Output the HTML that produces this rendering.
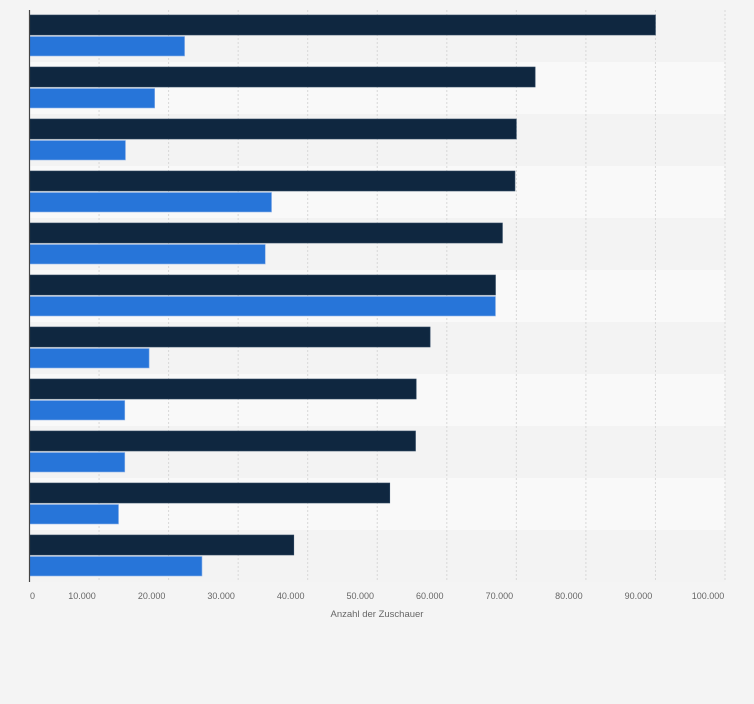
<!DOCTYPE html>
<html><head><meta charset="utf-8"><style>
body{margin:0;background:#f4f4f4;font-family:"Liberation Sans",sans-serif;}
</style></head><body>
<svg id="chart" width="754" height="699" xmlns="http://www.w3.org/2000/svg"></svg>
<script>
const categories=["1","2","3","4","5","6","7","8","9","10","11"];
const seriesA=[90000,72700,70000,69800,68000,67000,57600,55600,55500,51800,38000];
const seriesB=[22300,18000,13800,34800,33900,67000,17200,13700,13700,12800,24800];
const tickValues=[0,10000,20000,30000,40000,50000,60000,70000,80000,90000,100000];
const tickLabels=["0","10.000","20.000","30.000","40.000","50.000","60.000","70.000","80.000","90.000","100.000"];
const svg=document.getElementById('chart');
const NS="http://www.w3.org/2000/svg";
const x0=29.5,x1=725,plotTop=10,rowH=52;
const xs=v=>x0+(v/100000)*(x1-x0);
function mk(t,a,p){const e=document.createElementNS(NS,t);for(const k in a)e.setAttribute(k,a[k]);(p||svg).appendChild(e);return e;}
categories.forEach((c,i)=>{
  const r=mk('rect',{x:x0,y:plotTop+i*rowH,width:x1-x0,height:rowH,fill:i%2?'#f9f9f9':'#f3f3f3'});
  
  
});
tickValues.forEach((v,i)=>{
  if(v>0){const g=mk('line',{x1:xs(v),x2:xs(v),y1:plotTop,y2:plotTop+rowH*categories.length,stroke:'#d8d8d8','stroke-dasharray':'2,2'});
  
  }
  const t=mk('text',{x:i===0?xs(v)+3:xs(v)-17,y:599,'font-size':'9',fill:'#666','text-anchor':'middle'});
  t.textContent=tickLabels[i];
  
  
});
categories.forEach((c,i)=>{
  const y=plotTop+i*rowH;
  const a=mk('rect',{x:x0,y:y+5,width:xs(seriesA[i])-x0,height:20,fill:'#0f2740',stroke:'#2d4660','stroke-width':0.6});
  
  
  const b=mk('rect',{x:x0,y:y+26.5,width:xs(seriesB[i])-x0,height:19.5,fill:'#2775d9',stroke:'#8fb3e8','stroke-width':0.6});
  
  
});
const ax=mk('line',{x1:x0,x2:x0,y1:plotTop,y2:plotTop+rowH*categories.length,stroke:'#444','stroke-width':1.2});


const ti=mk('text',{x:377,y:617,'font-size':'9.5',fill:'#666','text-anchor':'middle'});
ti.textContent="Anzahl der Zuschauer";


</script>
</body></html>
